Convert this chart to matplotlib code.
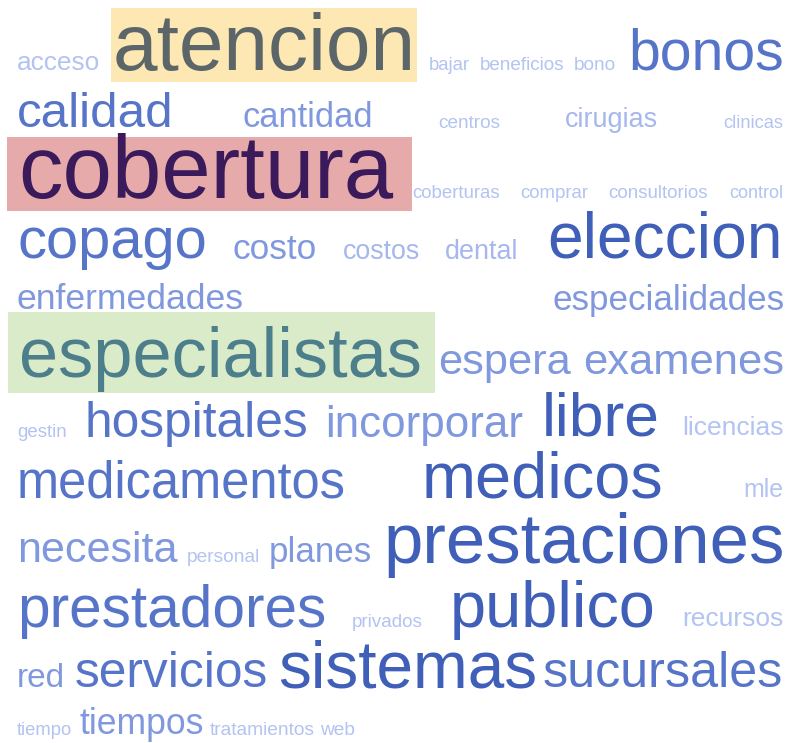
import matplotlib
matplotlib.use("Agg")
import matplotlib.pyplot as plt
from matplotlib.patches import Rectangle

# ---- data: words and (estimated) frequencies ----
words = ["acceso", "atencion", "bajar", "beneficios", "bono", "bonos",
         "calidad", "cantidad", "centros", "cirugias", "clinicas",
         "cobertura", "coberturas", "comprar", "consultorios", "control",
         "copago", "costo", "costos", "dental", "eleccion",
         "enfermedades", "especialidades",
         "especialistas", "espera", "examenes",
         "gestin", "hospitales", "incorporar", "libre", "licencias",
         "medicamentos", "medicos", "mle",
         "necesita", "personal", "planes", "prestaciones",
         "prestadores", "privados", "publico", "recursos",
         "red", "servicios", "sistemas", "sucursales",
         "tiempo", "tiempos", "tratamientos", "web"]
counts = [5, 28, 4, 4, 4, 14,
          12, 9, 5, 7, 5,
          30, 4, 4, 4, 4,
          14, 9, 6, 6, 19,
          9, 10,
          26, 10, 10,
          3, 13, 10, 17, 5,
          12, 18, 5,
          10, 3, 9, 22,
          14, 3, 18, 5,
          5, 13, 19, 11,
          3, 9, 4, 4]
highlighted = ["atencion", "cobertura", "especialistas"]

# ---- layout (pixel coordinates of the original picture) ----
lefts = [17, 113, 429, 480, 574, 628,
         17, 242, 438, 565, 723,
         18, 412, 520, 608, 729,
         18, 233, 343, 445, 547,
         17, 552,
         19, 438, 583,
         17, 85, 325, 542, 682,
         17, 422, 743,
         17, 187, 269, 383,
         17, 352, 450, 682,
         17, 75, 278, 543,
         17, 79, 210, 320]
rights = [100, 415, 470, 565, 616, 783,
          173, 372, 500, 658, 783,
          392, 500, 588, 708, 783,
          207, 317, 420, 518, 782,
          243, 783,
          421, 570, 783,
          67, 308, 522, 660, 783,
          345, 663, 783,
          177, 260, 372, 783,
          325, 423, 655, 783,
          65, 268, 537, 783,
          72, 203, 315, 355]
baselines = [70, 70, 70, 70, 70, 70,
             127, 127, 128, 127, 128,
             198, 198, 198, 198, 198,
             258, 259, 259, 259, 258,
             309, 310,
             377, 374, 374,
             437, 437, 437, 435, 435,
             497, 498, 497,
             562, 562, 562, 563,
             627, 627, 627, 626,
             687, 687, 687, 687,
             735, 734, 735, 735]
tiers = [4, 0, 4, 4, 4, 1,
         1, 2, 4, 3, 4,
         0, 4, 4, 4, 4,
         1, 2, 3, 3, 0,
         2, 2,
         0, 2, 2,
         4, 1, 2, 0, 4,
         1, 0, 4,
         2, 4, 2, 0,
         1, 4, 0, 4,
         2, 1, 0, 1,
         4, 2, 4, 4]
tier_colors = ["#3f5fb8", "#5674c8", "#8098dd", "#a6b7ed", "#b3c3f2"]
special_style = {
    "atencion": dict(color="#5c6669", bg="#fde8b3", box=(111, 8, 417, 82)),
    "cobertura": dict(color="#3b1a5c", bg="#e6aaaa", box=(7, 137, 412, 211)),
    "especialistas": dict(color="#4d7e8c", bg="#d9ebc8", box=(8, 312, 435, 393)),
}

W, H = 790, 743
fig = plt.figure(figsize=(W / 100, H / 100), dpi=100)
ax = fig.add_axes([0, 0, 1, 1])
ax.set_xlim(0, W)
ax.set_ylim(H, 0)
ax.axis("off")

fig.canvas.draw()
renderer = fig.canvas.get_renderer()
px_per_unit = fig.dpi / 100.0

for name in highlighted:
    x0, y0, x1, y1 = special_style[name]["box"]
    ax.add_patch(Rectangle((x0, y0), x1 - x0, y1 - y0,
                           facecolor=special_style[name]["bg"],
                           edgecolor="none", zorder=0))

for w, c, L, R, B, t in zip(words, counts, lefts, rights, baselines, tiers):
    color = special_style[w]["color"] if w in special_style else tier_colors[t]
    txt = ax.text(L, B, w, ha="left", va="baseline", fontsize=20,
                  family="Liberation Sans", color=color, zorder=2)
    bb = txt.get_window_extent(renderer=renderer)
    target = (R - L) * px_per_unit
    txt.set_fontsize(20 * target / bb.width)

fig.savefig("out.png", dpi=100, facecolor="white")
